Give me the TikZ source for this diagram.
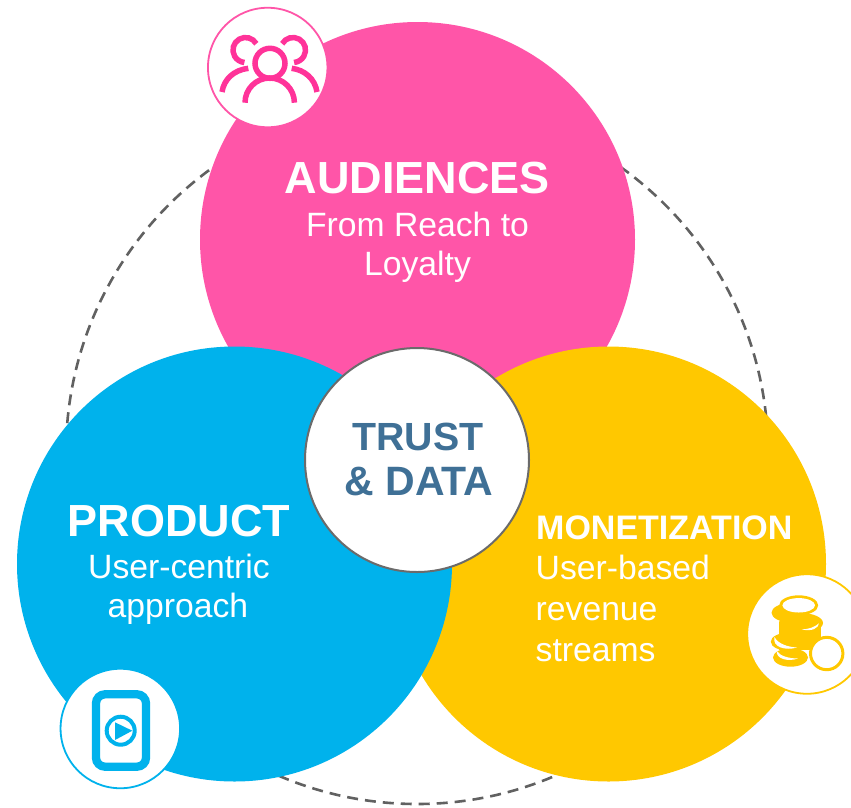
\documentclass[tikz,border=0pt]{standalone}
\usepackage{fontspec}
\setmainfont{Liberation Sans}
\definecolor{pinkc}{HTML}{FF55A8}
\definecolor{pinki}{HTML}{FF3399}
\definecolor{bluec}{HTML}{00B2EC}
\definecolor{yelc}{HTML}{FFC800}
\definecolor{trustc}{HTML}{3F7096}
\newcommand{\fsz}[1]{\fontsize{#1}{#1}\selectfont}
\tikzset{
  bigc/.style={circle,inner sep=0pt,minimum size=435pt,draw=none},
  badge/.style={circle,inner sep=0pt,minimum size=119.5pt,fill=white,line width=1.8pt},
  lab/.style={anchor=base,text=white,inner sep=0pt},
  labl/.style={anchor=base west,text=white,inner sep=0pt},
  title/.style={font=\bfseries\fsz{45}},
  sub/.style={font=\fsz{33.7}},
  trust/.style={anchor=base,text=trustc,inner sep=0pt,font=\bfseries\fsz{40}},
  pic1/.style={draw=pinki,line width=5.5pt,line cap=butt,fill=none},
  pic2/.style={draw=bluec,fill=none},
  coin/.style={fill=yelc,draw=none},
  slit/.style={fill=white,draw=none}
}
\begin{document}
\begin{tikzpicture}[x=1pt,y=-1pt]
\useasboundingbox (0,0) rectangle (851,807);
\fill[white] (0,0) rectangle (851,807);
\begin{scope}
\clip (0,0) rectangle (851,807);
\node[circle,inner sep=0pt,minimum size=702pt,draw=black!62,dashed,line width=2.6pt,dash pattern=on 11pt off 7pt] (ring) at (417,453) {};
\node[bigc,fill=pinkc] (aud) at (417.5,239.5) {};
\node[bigc,fill=yelc] (mon) at (608.5,564) {};
\node[bigc,fill=bluec] (prod) at (234.5,564) {};
\node[circle,inner sep=0pt,minimum size=224pt,fill=white,draw=black!58,line width=2pt] (core) at (417,460) {};
\node[badge,draw=pinkc] (b1) at (267.7,67.5) {};
\node[badge,draw=bluec] (b2) at (120.3,728.5) {};
\node[badge,draw=yelc] (b3) at (807,634) {};
% people icon
\draw[pic1] (270,63.3) circle (15);
\draw[pic1] (245,102.7) arc (180:360:24.7);
\draw[pic1] (245.5,50) ++(-30:12.5) arc (-30:-265:12.5);
\draw[pic1] (248.3,68.3) .. controls (234,70) and (224,79) .. (222,92);
\draw[pic1] (293,50) ++(210:12.5) arc (210:445:12.5);
\draw[pic1] (291.7,68.3) .. controls (305,70) and (315,79) .. (317,92);
% phone icon
\draw[pic2,line width=8.3pt,rounded corners=9pt] (96,694.3) rectangle (146,766.7);
\draw[pic2,line width=4pt] (120.7,730.7) circle (14);
\fill[bluec] (115,722.3) -- (132.3,730.7) -- (115,740) -- cycle;
% coins icon
\fill[coin] (790,612.7) ellipse (18.5 and 9.5);
\fill[coin] (801,623) ellipse (22 and 10);
\fill[coin] (788.3,641.7) ellipse (17.5 and 9);
\fill[coin] (790.5,657.5) ellipse (17.5 and 9.2);
\fill[coin] (779,622) rectangle (821,650);
\fill[coin] (798.7,605.3) ellipse (19.5 and 10);
\fill[slit] (798.7,605.3) ellipse (16.3 and 7.2);
\fill[slit] (801.7,629.3) .. controls (808,629.5) and (815,627) .. (819,623.3) .. controls (818.5,628) and (812,632) .. (801.7,629.3) -- cycle;
\fill[slit] (774.5,637) .. controls (778,644) and (788,647) .. (797,647.5) .. controls (785,651) and (772,647) .. (774.5,637) -- cycle;
\fill[slit] (776.7,651) .. controls (780,656) and (789,658.5) .. (798,658.5) .. controls (788,662) and (776,659) .. (776.7,651) -- cycle;
\draw[draw=yelc,fill=white,line width=3pt] (826.7,653.5) circle (16.2);
\end{scope}
% text
\node[lab,title] (t1) at (417.5,193) {AUDIENCES};
\node[lab,sub] (t1a) at (417.5,236) {From Reach to};
\node[lab,sub] (t1b) at (417.5,275) {Loyalty};
\node[lab,title] (t2) at (179,536) {PRODUCT};
\node[lab,sub] (t2a) at (179,578) {User-centric};
\node[lab,sub] (t2b) at (178,617) {approach};
\node[labl,font=\bfseries\fsz{34}] (t3) at (536,539) {MONETIZATION};
\node[labl,sub] (t3a) at (535.5,579) {User-based};
\node[labl,sub] (t3b) at (535.5,620) {revenue};
\node[labl,sub] (t3c) at (535.5,661) {streams};
\node[trust,font=\bfseries\fsz{39.3}] (c1) at (418,450) {TRUST};
\node[trust,font=\bfseries\fsz{41}] (c2) at (419,495) {\& DATA};
\end{tikzpicture}
\end{document}
